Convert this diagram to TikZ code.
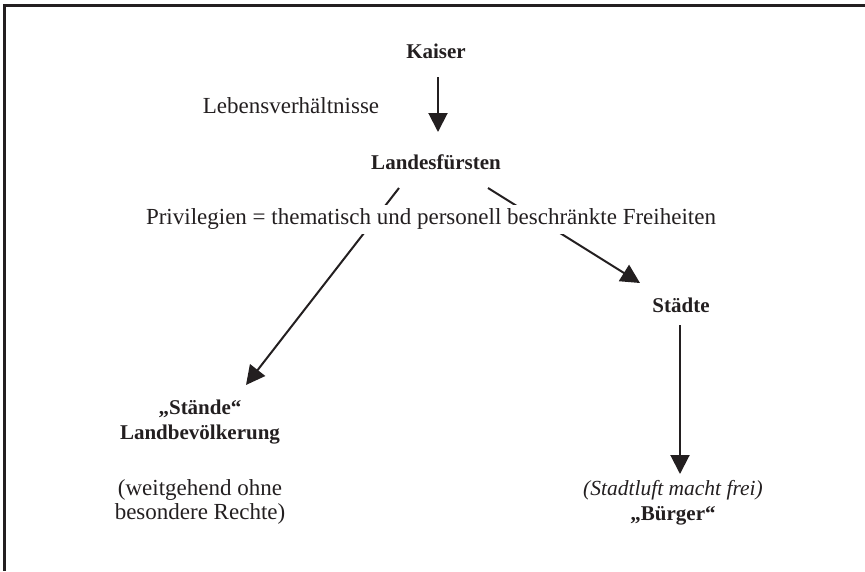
\documentclass[tikz,border=0pt]{standalone}
\usepackage{fontspec}
\setmainfont{Liberation Serif}
\usetikzlibrary{positioning,arrows.meta,calc}
\definecolor{ink}{RGB}{35,31,32}
\newcommand{\freifont}{\fontsize{21.5}{23}\selectfont\mdseries\itshape}
\tikzset{
  plain/.style ={font=\fontsize{23}{24}\selectfont,text=ink,
                 align=center,inner sep=1pt},
  kopf/.style  ={font=\fontsize{21}{25}\selectfont\bfseries,text=ink,
                 align=center,inner sep=1pt},
  arr/.style   ={-{Triangle[length=19pt,width=19pt]},draw=ink,line width=2pt}
}

\begin{document}
\begin{tikzpicture}[x=1pt,y=-1pt]
\useasboundingbox (0,0) rectangle (865,571);

% frame
\draw[ink,line width=3pt] (865,5.3) -- (4.3,5.3) -- (4.3,571);

\node[kopf] (kaiser)  at (436,51)                {Kaiser};
\node[kopf] (lf)      at ($(kaiser)+(0,111)$)    {Landesfürsten};
\node[plain] (leben)  at ($(kaiser)+(-145,55)$)  {Lebensverhältnisse};

\node[kopf] (staende) at (200,422)               {„Stände“\\Landbevölkerung};
\node[plain] (rechte) at ($(staende)+(0,80)$)    {(weitgehend ohne\\besondere Rechte)};

\node[kopf] (staedte) at (681,305)               {Städte};
\node[kopf] (buerger) at (673,503) {{\freifont (Stadtluft macht frei)}\\„Bürger“};

\draw[arr] ($(kaiser)+(2,26)$) -- ($(lf)+(2,-30)$);
\draw[arr] ($(lf)+(-37,26)$)   -- ($(staende)+(46,-37)$);
\draw[arr] ($(lf)+(52,26)$)    -- ($(staedte)+(-41,-22)$);
\draw[arr] ($(staedte)+(-1,20)$) -- ($(buerger)+(7,-29)$);

% label over the two lines
\node[plain,fill=white,inner xsep=2pt,inner ysep=4pt,
      text height=15pt,text depth=6pt]
      (priv) at (431,219.5)
      {Privilegien = thematisch und personell beschränkte Freiheiten};

\end{tikzpicture}
\end{document}
